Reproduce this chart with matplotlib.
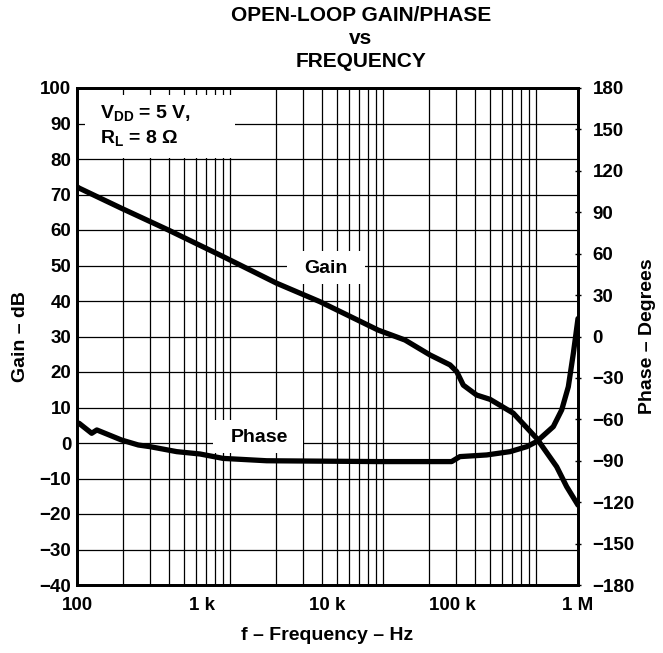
import numpy as np
import matplotlib
matplotlib.use("Agg")
import matplotlib.pyplot as plt
from matplotlib.ticker import FixedLocator, NullLocator, LogLocator
from matplotlib.patches import Rectangle

plt.rcParams['font.family'] = ['Liberation Sans', 'DejaVu Sans']
plt.rcParams['font.weight'] = 'bold'
plt.rcParams['mathtext.fontset'] = 'custom'
plt.rcParams['mathtext.rm'] = 'Liberation Sans:bold'
plt.rcParams['mathtext.bf'] = 'Liberation Sans:bold'
plt.rcParams['mathtext.it'] = 'Liberation Sans:bold'

# ---------------- data ----------------
gain_freq = [100, 104, 227, 536, 1470, 3930, 8710, 25400, 41600, 65800, 95100,
             107600, 121400, 155300, 198400, 304300, 467900, 676000, 812000, 1000000]
gain_db = [72.2, 71.8, 66.1, 60.0, 52.5, 45.0, 39.8, 31.8, 29.0, 24.8, 22.0,
           20.1, 16.3, 13.5, 12.3, 8.4, 1.3, -6.7, -12.3, -17.5]

phase_freq = [100, 104, 131, 144, 227, 309, 383, 625, 959, 1470, 3270, 25400,
              98000, 114000, 186600, 286600, 389700, 467900, 635000, 741000,
              837000, 918000, 1000000]
phase_deg = [-62.5, -62.9, -70.1, -67.7, -75.0, -78.6, -79.8, -83.4, -85.1, -88.3,
             -90.0, -90.6, -90.6, -87.0, -85.8, -83.4, -79.8, -76.1, -65.3, -53.2,
             -36.4, -12.2, 13.0]

x_ticks = [1e2, 1e3, 1e4, 1e5, 1e6]
x_labels = ['100', '1 k', '10 k', '100 k', '1 M']
gain_ticks = list(range(-40, 101, 10))
phase_ticks = list(range(-180, 181, 30))

TICK_FS = 13.5
LABEL_FS = 14

# ---------------- figure ----------------
fig = plt.figure(figsize=(6.63, 6.53), dpi=100)
pos = [77/663, 1-585/653, 501/663, 497/653]

# grid layer (printed log grid)
axg = fig.add_axes(pos, zorder=0)
axg.set_xscale('log')
axg.set_xlim(100, 100*10**3.275)
axg.set_ylim(-40, 100)
axg.xaxis.set_major_locator(LogLocator(base=10, numticks=10))
axg.xaxis.set_minor_locator(LogLocator(base=10, subs=np.arange(2, 10), numticks=10))
axg.yaxis.set_major_locator(FixedLocator(gain_ticks))
axg.grid(True, which='both', axis='x', color='black', lw=0.9)
axg.grid(True, which='major', axis='y', color='black', lw=0.9)
axg.tick_params(which='both', length=0, labelbottom=False, labelleft=False)
for s in axg.spines.values():
    s.set_visible(False)

# main axis
ax = fig.add_axes(pos, zorder=1)
ax.patch.set_visible(False)
ax.set_xscale('log')
ax.set_xlim(1e2, 1e6)
ax.set_ylim(-40, 100)
ax.xaxis.set_major_locator(FixedLocator(x_ticks))
ax.xaxis.set_minor_locator(NullLocator())
ax.set_xticklabels(x_labels)
ax.set_yticks(gain_ticks)
ax.tick_params(axis='x', length=0, labelsize=TICK_FS, pad=9)
ax.tick_params(axis='y', length=0, labelsize=TICK_FS, pad=4)
for lab in ax.get_xticklabels() + ax.get_yticklabels():
    lab.set_fontweight('bold')
for s in ax.spines.values():
    s.set_linewidth(2)
ax.set_xlabel('f – Frequency – Hz', fontsize=LABEL_FS, fontweight='bold', labelpad=9)
ax.set_ylabel('Gain – dB', fontsize=LABEL_FS, fontweight='bold', labelpad=8)

ax.plot(gain_freq, gain_db, color='black', lw=3.8, solid_capstyle='round',
        solid_joinstyle='round', zorder=5)

# white label boxes
for (x0, y0, w, h) in [(0.016, 0.859, 0.30, 0.127),
                        (0.419, 0.606, 0.156, 0.066),
                        (0.271, 0.266, 0.18, 0.066)]:
    ax.add_patch(Rectangle((x0, y0), w, h, transform=ax.transAxes,
                           facecolor='white', edgecolor='none', zorder=3))

ax.text(0.046, 0.939, r'V$_{\mathregular{DD}}$ = 5 V,', transform=ax.transAxes,
        fontsize=LABEL_FS, fontweight='bold', va='baseline', ha='left', zorder=4)
ax.text(0.046, 0.889, r'R$_{\mathregular{L}}$ = 8 Ω', transform=ax.transAxes,
        fontsize=LABEL_FS, fontweight='bold', va='baseline', ha='left', zorder=4)
ax.text(0.496, 0.628, 'Gain', transform=ax.transAxes, fontsize=LABEL_FS,
        fontweight='bold', ha='center', va='baseline', zorder=4)
ax.text(0.364, 0.288, 'Phase', transform=ax.transAxes, fontsize=LABEL_FS,
        fontweight='bold', ha='center', va='baseline', zorder=4)

# phase axis
axp = ax.twinx()
axp.set_ylim(-180, 180)
axp.set_yticks(phase_ticks)
axp.tick_params(axis='y', direction='inout', length=5, width=1, labelsize=TICK_FS, pad=8)
for lab in axp.get_yticklabels():
    lab.set_fontweight('bold')
for s in axp.spines.values():
    s.set_linewidth(2)
axp.set_ylabel('Phase – Degrees', fontsize=LABEL_FS, fontweight='bold', labelpad=3)
axp.plot(phase_freq, phase_deg, color='black', lw=3.8, solid_capstyle='round',
         solid_joinstyle='round', zorder=5)

fig.text(361/663, 1-6/653, 'OPEN-LOOP GAIN/PHASE\nvs\nFREQUENCY', ha='center',
         va='top', fontsize=15, fontweight='bold', linespacing=1.27)

fig.savefig('out.png', dpi=100)
